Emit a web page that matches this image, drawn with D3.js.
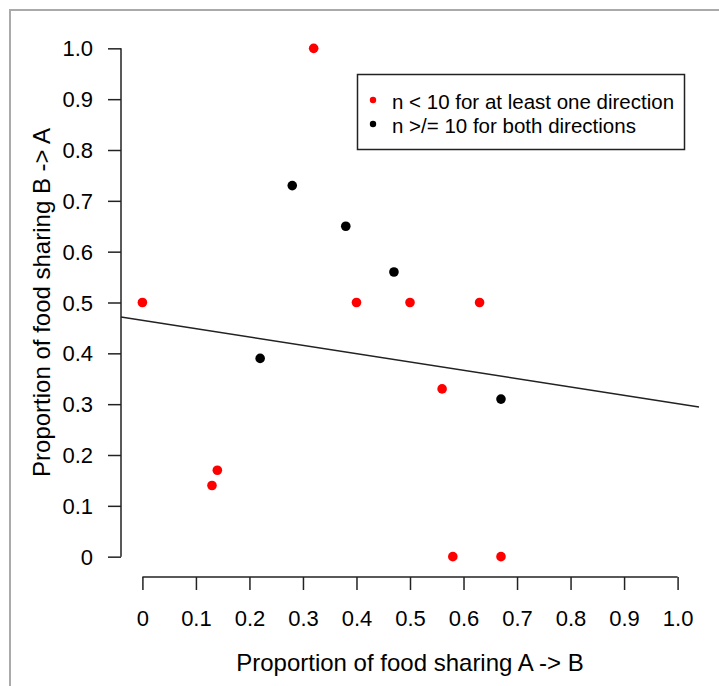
<!DOCTYPE html>
<html>
<head>
<meta charset="utf-8">
<script src="https://cdn.jsdelivr.net/npm/d3@7"></script>
<style>
  body { margin: 0; background: #fff; }
  text { font-family: "Liberation Sans", Arial, sans-serif; fill: #000; }
</style>
</head>
<body>
<div id="chart"></div>
<script>
// n < 10 for at least one direction
var redX = [0, 0.32, 0.40, 0.50, 0.63, 0.56, 0.14, 0.13, 0.58, 0.67];
var redY = [0.5, 1.0, 0.5, 0.5, 0.5, 0.33, 0.17, 0.14, 0, 0];
// n >/= 10 for both directions
var blackX = [0.28, 0.38, 0.47, 0.22, 0.67];
var blackY = [0.73, 0.65, 0.56, 0.39, 0.31];
// fitted line
var fit = { intercept: 0.465, slope: -0.164 };
var ticks = [0, 0.1, 0.2, 0.3, 0.4, 0.5, 0.6, 0.7, 0.8, 0.9, 1.0];
var tickLabels = ["0", "0.1", "0.2", "0.3", "0.4", "0.5", "0.6", "0.7", "0.8", "0.9", "1.0"];
var legendLabels = ["n < 10 for at least one direction", "n >/= 10 for both directions"];
var legendColors = ["#ff0000", "#000000"];

var width = 719, height = 686;
var plot = { left: 121, right: 699, top: 28, bottom: 577 };

var svg = d3.select("#chart").append("svg")
  .attr("width", width)
  .attr("height", height);

// outer frame (left + top only visible)
svg.append("path")
  .attr("d", "M10," + height + "V10H" + width)
  .attr("fill", "none")
  .attr("stroke", "#aaaaaa")
  .attr("stroke-width", 2);

var x = d3.scaleLinear().domain([-0.04, 1.04]).range([plot.left, plot.right]);
var y = d3.scaleLinear().domain([-0.04, 1.04]).range([plot.bottom, plot.top]);

// x axis
var xAxis = svg.append("g")
  .attr("transform", "translate(0," + plot.bottom + ")")
  .call(d3.axisBottom(x).tickValues(ticks).tickSize(13).tickSizeOuter(0)
    .tickFormat(function (d, i) { return tickLabels[i]; }));
xAxis.select(".domain").attr("d", "M" + x(0) + ",0H" + x(1));
xAxis.selectAll("line").attr("stroke", "#222").attr("stroke-width", 1.5);
xAxis.select(".domain").attr("stroke", "#222").attr("stroke-width", 1.5);
xAxis.selectAll("text").attr("font-size", 22).attr("y", 0).attr("dy", 0)
  .attr("transform", "translate(0,41)").attr("dominant-baseline", "central");

// y axis
var yAxis = svg.append("g")
  .attr("transform", "translate(" + plot.left + ",0)")
  .call(d3.axisLeft(y).tickValues(ticks).tickSize(13).tickSizeOuter(0)
    .tickFormat(function (d, i) { return tickLabels[i]; }));
yAxis.select(".domain").attr("d", "M0," + y(0) + "V" + y(1));
yAxis.selectAll("line").attr("stroke", "#222").attr("stroke-width", 1.5);
yAxis.select(".domain").attr("stroke", "#222").attr("stroke-width", 1.5);
yAxis.selectAll("text").attr("font-size", 22).attr("x", -28).attr("dy", 0)
  .attr("dominant-baseline", "central");

// axis titles
svg.append("text")
  .attr("x", (x(0) + x(1)) / 2)
  .attr("y", 662)
  .attr("text-anchor", "middle")
  .attr("dominant-baseline", "central")
  .attr("font-size", 24)
  .text("Proportion of food sharing A -> B");

svg.append("text")
  .attr("transform", "translate(41," + (y(0) + y(1)) / 2 + ") rotate(-90)")
  .attr("text-anchor", "middle")
  .attr("dominant-baseline", "central")
  .attr("font-size", 24)
  .text("Proportion of food sharing B -> A");

// regression line
svg.append("line")
  .attr("x1", x(-0.04)).attr("y1", y(fit.intercept + fit.slope * -0.04))
  .attr("x2", x(1.04)).attr("y2", y(fit.intercept + fit.slope * 1.04))
  .attr("stroke", "#222")
  .attr("stroke-width", 1.5);

// points
svg.append("g").selectAll("circle")
  .data(redX)
  .join("circle")
  .attr("cx", function (d) { return x(d); })
  .attr("cy", function (d, i) { return y(redY[i]); })
  .attr("r", 4.8)
  .attr("fill", "#ff0000");

svg.append("g").selectAll("circle")
  .data(blackX)
  .join("circle")
  .attr("cx", function (d) { return x(d); })
  .attr("cy", function (d, i) { return y(blackY[i]); })
  .attr("r", 4.8)
  .attr("fill", "#000000");

// legend
var legend = svg.append("g");
legend.append("rect")
  .attr("x", 357.5).attr("y", 74.5)
  .attr("width", 327).attr("height", 75)
  .attr("fill", "#fff")
  .attr("stroke", "#222")
  .attr("stroke-width", 1.5);

var rows = legend.selectAll("g.row")
  .data(legendLabels)
  .join("g")
  .attr("class", "row")
  .attr("transform", function (d, i) { return "translate(0," + (100 + i * 24) + ")"; });
rows.append("circle")
  .attr("cx", 373).attr("cy", 0).attr("r", 3.2)
  .attr("fill", function (d, i) { return legendColors[i]; });
rows.append("text")
  .attr("x", 392).attr("y", 1)
  .attr("dominant-baseline", "central")
  .attr("font-size", 20.5)
  .text(function (d) { return d; });
</script>
</body>
</html>
